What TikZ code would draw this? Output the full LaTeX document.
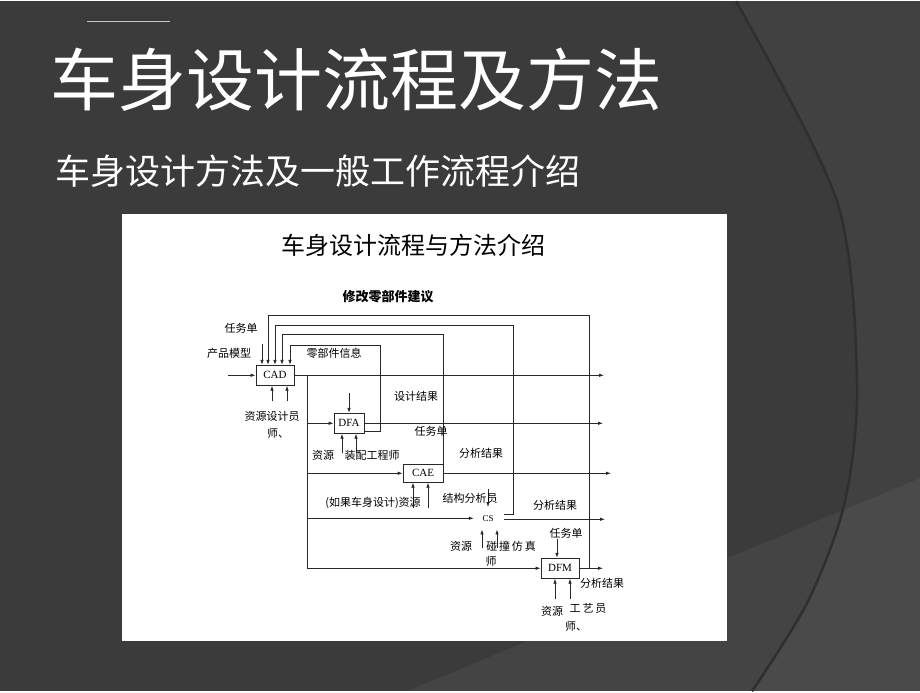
\documentclass[tikz,border=0pt]{standalone}
\usepackage{fontspec}
\setmainfont{Liberation Serif}
\newfontfamily\cjk{Noto Sans CJK SC}
\usetikzlibrary{arrows.meta}

\definecolor{slide}{RGB}{59,59,59}
\definecolor{arcline}{RGB}{47,47,47}
\definecolor{wire}{RGB}{40,40,40}

\begin{document}
\begin{tikzpicture}[x=1pt,y=1pt,yscale=-1,xscale=1,
  box/.style={draw=wire, line width=0.8pt, inner sep=0pt, minimum height=20pt, font=\fontsize{11}{11}\selectfont},
  arr/.style={draw=wire, line width=0.8pt, -{Latex[length=5pt,width=3.5pt]}},
  lbl/.style={inner sep=0.75pt, font=\cjk\fontsize{11}{11}\selectfont}]
	% slide background
	\fill [slide] (0,0) rectangle (920,690);
	\fill [white, opacity=0.035] plot [smooth] coordinates {(736,0) (837,200) (857,380) (845,500) (808,600) (752,690)} -- (920,690) -- (920,0) -- cycle;
	\fill [white, opacity=0.05] (407,690) -- (920,477) -- (920,690) -- cycle;
	\draw [arcline, line width=2.5pt] plot [smooth] coordinates {(736,0) (837,200) (857,380) (845,500) (808,600) (752,690)};
	\draw [gray!45, line width=0.3pt] (87,20) -- (170,20);
	\draw (356,78) node [text=white, font=\cjk\fontsize{68}{68}\selectfont] (title) {车身设计流程及方法};
	\draw (318,170) node [text=white, font=\cjk\fontsize{35}{35}\selectfont] (subtitle) {车身设计方法及一般工作流程介绍};
	% diagram sheet
	\fill [white] (122,213) rectangle (727,640);
	\draw (413,244) node [font=\cjk\fontsize{24}{24}\selectfont] (head) {车身设计流程与方法介绍};
	\draw (388,295) node [font=\cjk\bfseries\fontsize{13}{13}\selectfont] (advice) {修改零部件建议};
	% boxes
	\draw (275,374) node [box, minimum width=38pt] (cad) {CAD};
	\draw (349,422) node [box, minimum width=30pt] (dfa) {DFA};
	\draw (423,472) node [box, minimum width=40pt, minimum height=18pt] (cae) {CAE};
	\draw (488,517) node [inner sep=0pt, minimum width=28pt, minimum height=22pt, font=\fontsize{9}{9}\selectfont] (cs) {CS};
	\draw (560,567) node [box, minimum width=38pt] (dfm) {DFM};
	% free ends
	\coordinate (inCAD) at (228,374);
	\coordinate (tCAD) at (262,343);
	\coordinate (trk) at (307,374);
	\coordinate (lvA) at (0,314);
	\coordinate (lvB) at (0,324);
	\coordinate (lvC) at (0,333);
	\coordinate (lvD) at (0,344);
	\coordinate (cadA) at ([xshift=-7pt]cad.north);
	\coordinate (cadB) at (cad.north);
	\coordinate (cadC) at ([xshift=7pt]cad.north);
	\coordinate (cadD) at ([xshift=15pt]cad.north);
	\coordinate (csR) at (504,513);
	\coordinate (jDFM) at (589,567);
	\coordinate (oCAD) at (604,374);
	\coordinate (oDFA) at (603,422);
	\coordinate (oCAE) at (611,472);
	\coordinate (oCS) at (605,518);
	\coordinate (oDFM) at (603,567);
	\coordinate (tDFA) at (349,392);
	\coordinate (tCS) at (488,488);
	\coordinate (tDFM) at (557,538);
	\coordinate (bCAD1) at (272,400);
	\coordinate (bCAD2) at (287,400);
	\coordinate (bDFA1) at (342,452);
	\coordinate (bDFA2) at (356,452);
	\coordinate (bCAE1) at (413,507);
	\coordinate (bCAE2) at (428,507);
	\coordinate (bCS1) at (482,547);
	\coordinate (bCS2) at (497,547);
	\coordinate (bDFM1) at (555,598);
	\coordinate (bDFM2) at (570,598);
	% inputs into CAD
	\draw [arr] (inCAD) -- (cad.west);
	\draw [arr] (tCAD) -- (tCAD |- cad.north);
	% feedback loops
	\draw [arr] (jDFM) |- (cadA |- lvA) -- (cadA);
	\draw [arr] (csR) -- ++(9,0) |- (cadB |- lvB) -- (cadB);
	\draw [arr] (cae.north east) |- (cadC |- lvC) -- (cadC);
	\draw [arr] ([yshift=8pt]dfa.east) -- ++(16,0) |- (cadD |- lvD) -- (cadD);
	% outputs
	\draw [arr] (cad.east) -- (oCAD);
	\draw [arr] (dfa.east) -- (oDFA);
	\draw [arr] (cae.east) -- (oCAE);
	\draw [arr] (oCS -| csR) -- (oCS);
	\draw [arr] (dfm.east) -- (oDFM);
	% trunk from CAD
	\draw [arr] (trk) |- (dfm.west);
	\draw [arr] (trk |- dfa.west) -- (dfa.west);
	\draw [arr] (trk |- cae.west) -- (cae.west);
	\draw [arr] (trk |- cs.west) -- (cs.west);
	% tops
	\draw [arr] (tDFA) -- (dfa.north);
	\draw [arr] (tCS) -- (cs.north);
	\draw [arr] (tDFM) -- (tDFM |- dfm.north);
	% resources
	\draw [arr] (bCAD1) -- (bCAD1 |- cad.south);
	\draw [arr] (bCAD2) -- (bCAD2 |- cad.south);
	\draw [arr] (bDFA1) -- (bDFA1 |- dfa.south);
	\draw [arr] (bDFA2) -- (bDFA2 |- dfa.south);
	\draw [arr] (bCAE1) -- (bCAE1 |- cae.south);
	\draw [arr] (bCAE2) -- (bCAE2 |- cae.south);
	\draw [arr] (bCS1) -- (bCS1 |- cs.south);
	\draw [arr] (bCS2) -- (bCS2 |- cs.south);
	\draw [arr] (bDFM1) -- (bDFM1 |- dfm.south);
	\draw [arr] (bDFM2) -- (bDFM2 |- dfm.south);
	% labels
	\draw (241,327) node [lbl] (lTask) {任务单};
	\draw (229,352) node [lbl] (lModel) {产品模型};
	\draw (334,352) node [lbl] (lParts) {零部件信息};
	\draw (416,395) node [lbl] (lDesign) {设计结果};
	\draw (272,415) node [lbl] (lCadRes) {资源设计员};
	\draw (278,432) node [lbl] (lCadRes2) {师、};
	\draw (431,430) node [lbl] (lTask2) {任务单};
	\draw (323,454) node [lbl] (lDfaRes) {资源};
	\draw (372,454) node [lbl] (lDfaEng) {装配工程师};
	\draw (481,452) node [lbl] (lCaeOut) {分析结果};
	\draw (373,502) node [lbl] (lCaeRes) {(如果车身设计)资源};
	\draw (470,497) node [lbl] (lCaeEng) {结构分析员};
	\draw (555,504) node [lbl] (lCsOut) {分析结果};
	\draw (566,532) node [lbl] (lTask3) {任务单};
	\draw (461,545) node [lbl] (lCsRes) {资源};
	\draw (511,545) node [lbl] (lCsEng) {碰\,撞\,仿\,真};
	\draw (491,560) node [lbl] (lCsEng2) {师};
	\draw (552,610) node [lbl] (lDfmRes) {资源};
	\draw (588,607) node [lbl] (lDfmEng) {工\,艺\,员};
	\draw (576,625) node [lbl] (lDfmEng2) {师、};
	\draw (602,582) node [lbl] (lDfmOut) {分析结果};
\end{tikzpicture}
\end{document}
